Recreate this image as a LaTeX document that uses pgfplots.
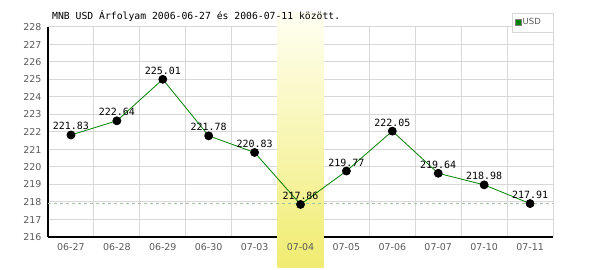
\documentclass[border=0pt]{standalone}
\usepackage{fontspec}
\setmainfont{DejaVu Sans}
\newfontfamily\monofont{DejaVu Sans Mono}
\usepackage{pgfplots}
\usepackage{pgfplotstable}
\pgfplotsset{compat=1.18}
\definecolor{gridgray}{RGB}{216,216,216}
\definecolor{linegreen}{RGB}{0,128,0}
\definecolor{ticktext}{RGB}{90,90,90}
\definecolor{dashgreen}{RGB}{160,196,160}
\definecolor{bandbottom}{RGB}{240,236,112}
\definecolor{bandtop}{RGB}{255,255,242}
\pgfplotstableread{
x y label
0 221.83 221.83
1 222.64 222.64
2 225.01 225.01
3 221.78 221.78
4 220.83 220.83
5 217.86 217.86
6 219.77 219.77
7 222.05 222.05
8 219.64 219.64
9 218.98 218.98
10 217.91 217.91
}\usddata
\pgfplotsset{base/.style={
  at={(48bp,33bp)}, anchor=south west,
  scale only axis, width=505bp, height=210bp,
  xmin=-0.5, xmax=10.5, ymin=216, ymax=228,
  xtick={0,...,10},
  minor xtick={-0.5,0.5,...,10.5},
  ytick={216,...,228},
  major tick length=0pt, minor tick length=0pt,
  axis line style={draw=none},
  clip=false,
}}
\begin{document}
\begin{tikzpicture}
% grid and axis lines
\begin{axis}[base,
  xticklabels={}, yticklabels={},
  xminorgrids, ymajorgrids,
  grid style={gridgray, line width=1bp},
  minor grid style={gridgray, line width=1bp},
]
\draw[black, line width=1.3bp] (axis cs:-0.5,216) -- (axis cs:10.5,216);
\draw[black, line width=1.3bp] (axis cs:-0.5,216) -- (axis cs:-0.5,228);
\end{axis}
% highlighted day
\begin{axis}[base, xticklabels={}, yticklabels={}]
\shade[top color=bandtop, bottom color=bandbottom] (axis cs:4.5,214.23) rectangle (axis cs:5.5,228.8);
\end{axis}
% labels, data, legend
\begin{axis}[base,
  xticklabels={06-27,06-28,06-29,06-30,07-03,07-04,07-05,07-06,07-07,07-10,07-11},
  tick label style={font=\fontsize{9.5}{10}\selectfont, text=ticktext},
  /pgf/number format/assume math mode=true,
  yticklabel style={xshift=-3bp},
  xticklabel style={yshift=-3bp},
  legend style={at={(1,1.0667)}, anchor=north east, draw=gridgray, fill=white,
    font=\fontsize{8.5}{9}\selectfont, text=ticktext, inner xsep=3bp, inner ysep=4.5bp,
    nodes={inner xsep=1bp, inner ysep=1bp}},
  legend cell align=left,
]
\addplot[dashgreen, line width=0.8bp, dash pattern=on 3bp off 3bp, forget plot] coordinates {(-0.5,217.91) (10.5,217.91)};
\addplot[linegreen, line width=0.8bp, mark=*, mark size=4bp,
  mark options={black, fill=black, solid},
  point meta=explicit symbolic,
  nodes near coords,
  every node near coord/.append style={font=\monofont\fontsize{10}{11}\selectfont, text=black, anchor=base, yshift=5bp, inner sep=0pt},
  legend image code/.code={\fill[linegreen, draw=gray, line width=0.4bp] (0bp,-3bp) rectangle (6bp,3bp);}
] table[x=x, y=y, meta=label] {\usddata};
\addlegendentry{USD\kern8bp}
\end{axis}
\node[anchor=west, font=\monofont\fontsize{9.8}{11}\selectfont, inner sep=0pt] at (52bp,254bp) {MNB USD Árfolyam 2006-06-27 és 2006-07-11 között.};
\pgfresetboundingbox
\path[use as bounding box] (0,0) rectangle (600bp,270bp);
\end{tikzpicture}
\end{document}
